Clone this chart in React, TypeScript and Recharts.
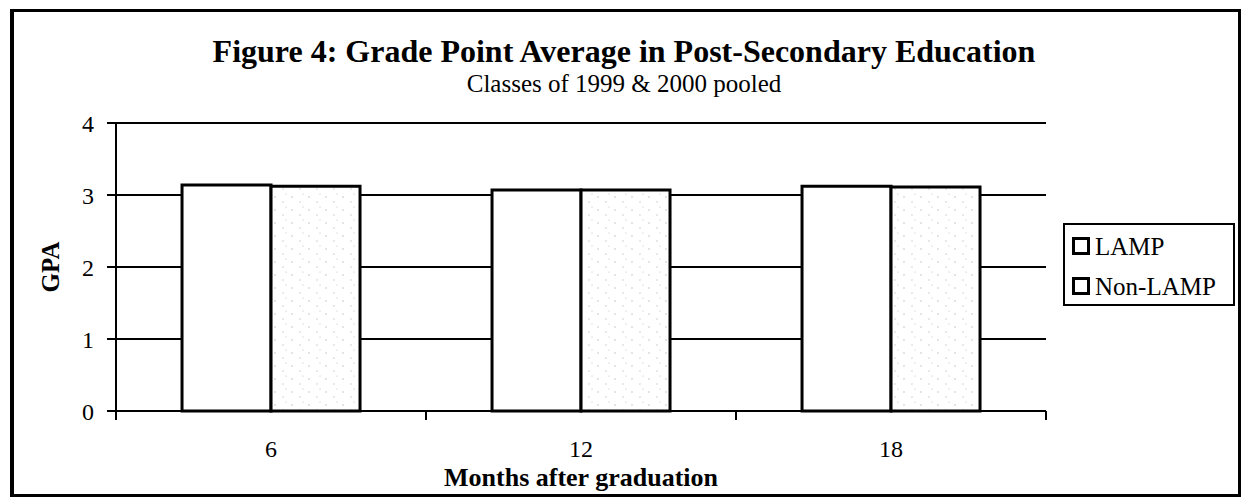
import React from 'react';
import { BarChart, Bar, XAxis, YAxis, CartesianGrid } from 'recharts';

// months after graduation (categories)
const months = ['6', '12', '18'];
// GPA
const lampGpa = [3.14, 3.07, 3.12];
const nonLampGpa = [3.12, 3.07, 3.11];
const gpaTicks = [0, 1, 2, 3, 4];

const seriesNames = ['LAMP', 'Non-LAMP'];

const chartData = months.map((m, i) => ({
  month: m,
  lamp: lampGpa[i],
  nonLamp: nonLampGpa[i],
}));

const FONT = '"Liberation Serif", "Times New Roman", serif';
const W = 1242;
const H = 498;
const PLOT_LEFT = 116;
const PLOT_RIGHT = 1046;
const BAND = (PLOT_RIGHT - PLOT_LEFT) / months.length;

function MonthTick(props: any) {
  const { x, y, payload, index } = props;
  const left = x - BAND / 2;
  const right = x + BAND / 2;
  return (
    <g>
      <line x1={left} y1={y} x2={left} y2={y + 9} stroke="#000" strokeWidth={2} />
      {index === months.length - 1 && (
        <line x1={right} y1={y} x2={right} y2={y + 9} stroke="#000" strokeWidth={2} />
      )}
      <text x={x} y={y + 46} textAnchor="middle" fontSize={24} fontFamily={FONT} fill="#000">
        {payload.value}
      </text>
    </g>
  );
}

function GpaLabel(props: any) {
  const { viewBox } = props;
  const cx = viewBox.x - 6;
  const cy = viewBox.y + viewBox.height / 2;
  return (
    <text
      x={cx}
      y={cy}
      transform={`rotate(-90, ${cx}, ${cy})`}
      textAnchor="middle"
      dominantBaseline="central"
      fontSize={25}
      fontWeight="bold"
      fontFamily={FONT}
      fill="#000"
    >
      GPA
    </text>
  );
}

function LegendSwatch() {
  return (
    <div
      style={{
        width: 18,
        height: 18,
        boxSizing: 'border-box',
        border: '3px solid #000',
        background: '#fff',
        marginRight: 5,
      }}
    />
  );
}

export default function App() {
  return (
    <div
      style={{
        position: 'absolute',
        left: 0,
        top: 0,
        width: W,
        height: H,
        background: '#fff',
        fontFamily: FONT,
        overflow: 'hidden',
      }}
    >
      {/* outer frame */}
      <div
        style={{
          position: 'absolute',
          left: 10,
          top: 9,
          width: 1231,
          height: 488,
          boxSizing: 'border-box',
          border: '3px solid #000',
          borderLeftWidth: 4,
        }}
      />

      <div
        style={{
          position: 'absolute',
          left: 10,
          top: 35,
          width: 1228,
          textAlign: 'center',
          fontSize: 32,
          lineHeight: '32px',
          fontWeight: 'bold',
          whiteSpace: 'nowrap',
        }}
      >
        Figure 4: Grade Point Average in Post-Secondary Education
      </div>
      <div
        style={{
          position: 'absolute',
          left: 10,
          top: 71,
          width: 1228,
          textAlign: 'center',
          fontSize: 25,
          lineHeight: '25px',
        }}
      >
        Classes of 1999 &amp; 2000 pooled
      </div>

      <div style={{ position: 'absolute', left: 0, top: 0 }}>
        <BarChart
          width={W}
          height={H}
          data={chartData}
          margin={{ top: 123, right: W - PLOT_RIGHT, bottom: 8, left: 56 }}
          barCategoryGap="21.3%"
          barGap={0}
        >
          <defs>
            <pattern id="speckle" width="17" height="13" patternUnits="userSpaceOnUse">
              <rect width="17" height="13" fill="#fff" />
              <circle cx="3" cy="2" r="0.7" fill="#b4b4b4" />
              <circle cx="11" cy="7" r="0.7" fill="#c4c4c4" />
              <circle cx="14" cy="12" r="0.6" fill="#bcbcbc" />
            </pattern>
          </defs>
          <CartesianGrid vertical={false} stroke="#000" strokeWidth={2} />
          <XAxis
            dataKey="month"
            height={79}
            tickLine={false}
            tickSize={0}
            tickMargin={0}
            axisLine={{ stroke: '#000', strokeWidth: 2 }}
            tick={<MonthTick />}
            interval={0}
            label={{
              value: 'Months after graduation',
              position: 'insideBottom',
              offset: 4,
              fontSize: 26,
              fontWeight: 'bold',
              fontFamily: FONT,
              fill: '#000',
            }}
          />
          <YAxis
            width={60}
            domain={[0, 4]}
            ticks={gpaTicks}
            interval={0}
            tickSize={9}
            tickMargin={13}
            tickLine={{ stroke: '#000', strokeWidth: 2 }}
            axisLine={{ stroke: '#000', strokeWidth: 2 }}
            tick={{ fontSize: 24, fontFamily: FONT, fill: '#000' }}
            label={<GpaLabel />}
          />
          <Bar
            dataKey="lamp"
            name={seriesNames[0]}
            fill="#fff"
            stroke="#000"
            strokeWidth={3}
            isAnimationActive={false}
          />
          <Bar
            dataKey="nonLamp"
            name={seriesNames[1]}
            fill="url(#speckle)"
            stroke="#000"
            strokeWidth={3}
            isAnimationActive={false}
          />
        </BarChart>
      </div>

      {/* legend */}
      <div
        style={{
          position: 'absolute',
          left: 1063,
          top: 223,
          width: 172,
          height: 83,
          boxSizing: 'border-box',
          border: '2px solid #000',
          paddingLeft: 7,
          paddingTop: 1,
          fontSize: 25,
        }}
      >
        {seriesNames.map((name) => (
          <div key={name} style={{ display: 'flex', alignItems: 'center', height: 40 }}>
            <LegendSwatch />
            <span style={{ lineHeight: '25px' }}>{name}</span>
          </div>
        ))}
      </div>
    </div>
  );
}
